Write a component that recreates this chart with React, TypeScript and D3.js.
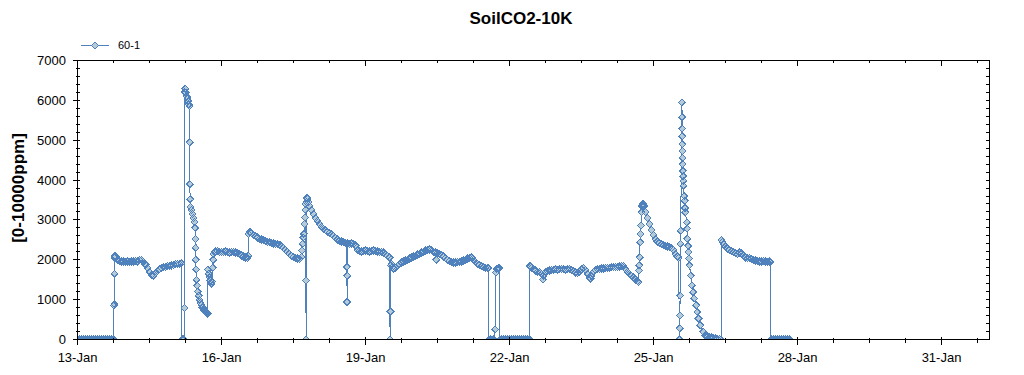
import React from 'react';
import * as d3 from 'd3';

// ---- data (hours since 13-Jan 00:00, ppm) ----
const seriesName = '60-1';
const chartTitle = 'SoilCO2-10K';
const yAxisTitle = '[0-10000ppm]';
const yTickValues = [0, 1000, 2000, 3000, 4000, 5000, 6000, 7000];
const xTickDays = [13, 16, 19, 22, 25, 28, 31];

const jan13to15: [number, number][] = [
  [0, 0], [1, 0], [2, 0], [3, 0], [4, 0], [5, 0], [6, 0], [7, 0], [8, 0], [9, 0], [10, 0], [11, 0], [12, 0], [13, 0], [14, 0], [15, 0], [16, 0], [17, 0], [18, 0],
  [18.17, 850], [18.33, 890], [18.5, 1650], [18.67, 2050], [18.83, 2100], [19, 2080], [20, 2000], [21, 1970], [22, 1960], [23, 1960], [24, 1950], [25, 1960], [26, 1950], [27, 1960], [28, 1960], [29, 1970], [30, 1960], [31, 1990], [32, 2000],
  [33, 1950], [34, 1880], [35, 1790], [36, 1700], [37, 1620], [38, 1600], [39, 1660], [40, 1720], [41, 1760], [42, 1790], [43, 1810], [44, 1820], [45, 1840], [46, 1850], [47, 1860], [48, 1870], [49, 1890], [50, 1900], [51, 1900], [52, 1910],
  [52.2, 0], [52.5, 0], [53, 0], [53.3, 0], [53.5, 790], [53.6, 6200], [53.8, 6300], [54, 6280], [54.3, 6200], [54.6, 6100], [55, 6050], [55.3, 5980], [55.6, 5900], [56, 5850],
  [56.1, 4950], [56.2, 3900], [56.3, 3520], [56.5, 3320], [57, 3250], [57.5, 3150], [58, 3050], [58.5, 2950], [58.8, 2800], [59, 2520], [59.1, 2300], [59.2, 2000], [59.3, 1760], [59.5, 1500], [59.8, 1350],
  [60.2, 1200], [60.6, 1100], [61, 1000], [61.5, 920], [62, 860], [62.5, 800], [63, 760], [63.5, 730], [64, 700], [64.5, 680], [65, 650],
  [65.2, 1750], [65.6, 1650], [66, 1560], [66.5, 1480], [67, 1400], [67.3, 1450], [67.6, 1800], [67.8, 2000], [68, 2150], [68.5, 2200],
];

const jan16to19: [number, number][] = [
  [69, 2210], [70, 2220], [71, 2200], [72, 2190], [73, 2200], [74, 2210], [75, 2190], [76, 2180], [77, 2190], [78, 2200], [79, 2180], [80, 2170], [81, 2150], [82, 2110], [83, 2080], [84, 2060], [85, 2050], [85.3, 2100],
  [85.5, 2650], [86, 2700], [86.5, 2690], [87, 2670], [88, 2620], [89, 2590], [90, 2560], [91, 2530], [92, 2510], [93, 2490], [94, 2470], [95, 2450], [96, 2440], [97, 2430], [98, 2410], [99, 2400], [100, 2390], [101, 2380],
  [102, 2350], [103, 2300], [104, 2250], [105, 2200], [106, 2150], [107, 2100], [108, 2070], [109, 2050], [110, 2030], [111, 2020],
  [112, 2070], [112.3, 2230], [112.6, 2400], [112.9, 2560], [113.2, 2650], [113.5, 2900], [113.7, 3060], [113.9, 3250], [114, 3400], [114.2, 1480], [114.3, 0], [114.5, 3450], [114.7, 3550], [115, 3520], [115.5, 3450],
  [116, 3350], [117, 3250], [118, 3150], [119, 3050], [120, 2980], [121, 2900], [122, 2830], [123, 2780], [124, 2740], [125, 2700], [126, 2680], [127, 2650], [128, 2600], [129, 2550], [130, 2510], [131, 2480], [132, 2460], [133, 2440], [134, 2420],
  [134.6, 2400], [134.7, 1820], [134.8, 940], [134.9, 1600], [135, 2410], [136, 2400], [137, 2410], [138, 2400], [139, 2360], [140, 2250],
  [141, 2220], [142, 2210], [143, 2220], [144, 2230], [145, 2220], [146, 2210], [147, 2220], [148, 2230], [149, 2220], [150, 2210], [151, 2200], [152, 2200], [153, 2180], [154, 2150], [155, 2100], [156, 2060],
];

const jan19to22: [number, number][] = [
  [156.3, 0], [156.5, 700], [156.7, 1850], [157, 1900], [157.5, 1820], [158, 1780], [159, 1790], [160, 1850], [161, 1900], [162, 1930], [163, 1960], [164, 1980], [165, 2000], [166, 2030], [167, 2060], [168, 2080], [169, 2100],
  [170, 2130], [171, 2150], [172, 2180], [173, 2200], [174, 2230], [175, 2250], [176, 2260], [177, 2240], [178, 2200], [179, 2180], [179.3, 2000], [180, 2170], [181, 2150], [182, 2120], [183, 2080], [184, 2050],
  [185, 2000], [186, 1970], [187, 1950], [188, 1930], [189, 1930], [190, 1940], [191, 1950], [192, 1960], [193, 1980], [194, 2000], [195, 2030], [196, 2050], [197, 2060], [198, 2000], [199, 1950], [200, 1900],
  [201, 1870], [202, 1850], [203, 1820], [204, 1800], [205, 1790], [205.5, 1800], [205.7, 0], [206.5, 0], [207.3, 0], [208, 0], [208.8, 257], [209.2, 1680], [209.7, 1770], [210.5, 1780], [211.1, 1790],
  [211.2, 0], [212, 0], [213, 0], [214, 0], [215, 0], [216, 0], [217, 0], [218, 0], [219, 0], [220, 0], [221, 0], [222, 0], [223, 0], [224, 0], [225, 0], [226, 0],
];

const jan22to25: [number, number][] = [
  [226.1, 1850], [226.5, 1830], [227, 1800], [228, 1760], [229, 1730], [230, 1700], [231, 1690], [232, 1650], [232.7, 1500], [233, 1600], [234, 1700], [235, 1720], [236, 1730], [237, 1740], [238, 1750], [239, 1760],
  [240, 1750], [241, 1760], [242, 1770], [243, 1760], [244, 1750], [245, 1760], [246, 1770], [247, 1750], [248, 1720], [249, 1680], [250, 1660], [251, 1700], [252, 1760], [253, 1790], [254, 1740], [255, 1650],
  [256, 1560], [256.5, 1530], [257, 1600], [258, 1700], [259, 1740], [260, 1760], [261, 1770], [262, 1780], [263, 1780], [264, 1790], [265, 1800], [266, 1800], [267, 1810], [268, 1810], [269, 1820], [270, 1820],
  [271, 1830], [272, 1840], [273, 1850], [274, 1760], [275, 1700], [276, 1640], [277, 1600], [278, 1560], [279, 1500], [280, 1460], [280.5, 1440],
  [280.7, 1730], [280.9, 1860], [281.1, 2065], [281.3, 2440], [281.5, 2650], [281.7, 2860], [282, 3190], [282.3, 3350], [282.7, 3400], [283.2, 3350], [284, 3200], [285, 3050], [286, 2900], [287, 2750], [288, 2620],
  [289, 2520], [290, 2460], [291, 2420], [292, 2390], [293, 2370], [294, 2350], [295, 2330], [296, 2320], [297, 2300], [298, 2250], [299, 2150], [300, 2080], [300.5, 2050],
];

const jan25to28: [number, number][] = [
  [301, 0], [301.1, 280], [301.2, 600], [301.3, 1100], [301.45, 2400], [301.6, 2730], [302.2, 5950], [302.3, 5580], [302.35, 5290], [302.4, 5100], [302.45, 4900], [302.5, 4730], [302.55, 4560], [302.6, 4400],
  [302.7, 4230], [302.8, 4100], [302.9, 3980], [303, 3860], [303.35, 3600], [303.6, 3480], [303.8, 3300], [303.9, 3190], [304.7, 2940], [304.8, 2780], [304.9, 2530], [305.3, 2350], [305.5, 2200], [305.7, 2030],
  [306, 1860], [306.7, 1600], [307.2, 1360], [307.8, 1190], [308.35, 1030], [309.35, 860], [309.85, 690], [310.5, 525], [311.35, 360], [312.85, 190], [313.85, 107], [315, 80], [316, 60], [317, 50], [318, 40],
  [319, 30], [320, 20], [321, 10], [321.8, 0],
  [322, 2500], [322.5, 2450], [323, 2400], [324, 2330], [325, 2280], [326, 2240], [327, 2220], [328, 2200], [329, 2170], [330, 2150], [331, 2180], [332, 2160], [333, 2100], [334, 2060], [335, 2040], [336, 2050],
  [337, 2020], [338, 2000], [339, 1980], [340, 1970], [341, 1960], [342, 1960], [343, 1970], [344, 1960], [345, 1950], [346, 1960], [346.4, 1940],
  [346.6, 0], [347, 0], [348, 0], [349, 0], [350, 0], [351, 0], [352, 0], [353, 0], [354, 0], [355, 0], [356, 0],
];

const START = Date.UTC(2014, 0, 13);
const END = Date.UTC(2014, 1, 1);
const HOUR = 3600 * 1000;

const LINE = '#4f81bd';
const FILL = '#b6cbd8';
const FONT = '"Liberation Sans", Arial, sans-serif';

export default function App() {
  const W = 1024;
  const H = 375;
  const x = d3.scaleUtc().domain([new Date(START), new Date(END)]).range([77.5, 989.5]);
  const y = d3.scaleLinear().domain([0, 7000]).range([339.5, 60.5]);
  const [x0, x1] = x.range();
  const [yb, yt] = y.range();

  const pts = [...jan13to15, ...jan16to19, ...jan19to22, ...jan22to25, ...jan25to28].map(([h, v]) => ({
    t: new Date(START + h * HOUR),
    v,
  }));

  const line = d3
    .line<{ t: Date; v: number }>()
    .x((d) => x(d.t))
    .y((d) => y(d.v));
  const diamond = d3.symbol(d3.symbolDiamond2, 30)() as string;

  const majorX = xTickDays.map((d) => new Date(Date.UTC(2014, 0, d)));
  const minorX = d3.range(0, 19 * 24 + 1, 18).map((h) => new Date(START + h * HOUR));
  const minorY = d3.range(0, 7001, 200);
  const fmt = d3.utcFormat('%-d-%b');

  return (
    <svg width={W} height={H} style={{ position: 'absolute', left: 0, top: 0, background: '#fff' }} fontFamily={FONT}>
      <rect x={0} y={0} width={W} height={H} fill="#fff" />
      <defs>
        <clipPath id="plot">
          <rect x={x0} y={yt} width={x1 - x0} height={yb - yt} />
        </clipPath>
      </defs>

      <text x={521} y={24} textAnchor="middle" fontWeight="bold" fontSize={17}>
        {chartTitle}
      </text>

      {/* legend */}
      <g>
        <line x1={81} x2={109} y1={45.5} y2={45.5} stroke={LINE} strokeWidth={1} shapeRendering="crispEdges" />
        <path d={diamond} transform="translate(95,45.5)" fill={FILL} stroke={LINE} strokeWidth={1} shapeRendering="crispEdges" />
        <text x={118} y={45.5} dy="0.35em" fontSize={11}>
          {seriesName}
        </text>
      </g>

      {/* data */}
      <g clipPath="url(#plot)" shapeRendering="crispEdges">
        <path d={line(pts) as string} fill="none" stroke={LINE} strokeWidth={1} />
        {pts.map((p, i) => (
          <path key={'f' + i} d={diamond} transform={`translate(${x(p.t)},${y(p.v)})`} fill={FILL} stroke="none" />
        ))}
        {pts.map((p, i) => (
          <path key={'s' + i} d={diamond} transform={`translate(${x(p.t)},${y(p.v)})`} fill="none" stroke={LINE} strokeWidth={1} />
        ))}
      </g>

      {/* frame */}
      <g stroke="#000" strokeWidth={1} shapeRendering="crispEdges" fill="none">
        <line x1={x0} x2={x1} y1={yb} y2={yb} />
        <line x1={x0} x2={x1} y1={yt} y2={yt} />
        <line x1={x0} x2={x0} y1={yt} y2={yb} />
        <line x1={x1} x2={x1} y1={yt} y2={yb} />
        {minorY.map((v) => (
          <g key={'my' + v}>
            <line x1={x0 - (v % 1000 === 0 ? 5 : 2)} x2={x0 + 2} y1={y(v)} y2={y(v)} />
            <line x1={x1 - 4} x2={x1} y1={y(v)} y2={y(v)} />
          </g>
        ))}
        {minorX.map((d, i) => (
          <g key={'mx' + i}>
            <line x1={x(d)} x2={x(d)} y1={yb - 2} y2={yb + 3} />
            <line x1={x(d)} x2={x(d)} y1={yt} y2={yt + 2} />
          </g>
        ))}
        {majorX.map((d, i) => (
          <g key={'Mx' + i}>
            <line x1={x(d)} x2={x(d)} y1={yb - 3} y2={yb + 5} />
            <line x1={x(d)} x2={x(d)} y1={yt} y2={yt + 5} />
          </g>
        ))}
      </g>

      {yTickValues.map((v) => (
        <text key={'yl' + v} x={66} y={y(v)} dy="0.35em" textAnchor="end" fontSize={13}>
          {v}
        </text>
      ))}
      {majorX.map((d, i) => (
        <text key={'xl' + i} x={x(d)} y={362} textAnchor="middle" fontSize={13}>
          {fmt(d)}
        </text>
      ))}

      <text transform="translate(24,188) rotate(-90)" textAnchor="middle" fontWeight="bold" fontSize={17}>
        {yAxisTitle}
      </text>
    </svg>
  );
}
